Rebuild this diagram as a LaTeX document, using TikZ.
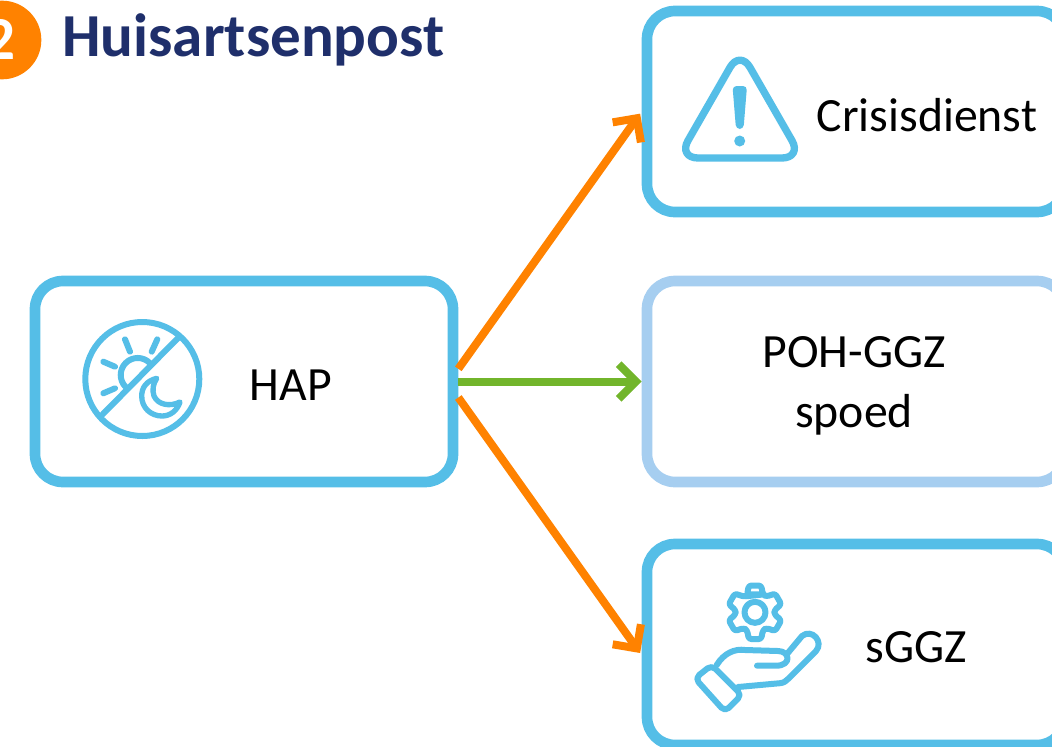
\documentclass[tikz,border=0pt]{standalone}
\usepackage{fontspec}
\setmainfont{Carlito}
\usetikzlibrary{arrows.meta}
\definecolor{boxblue}{HTML}{55BEE7}
\definecolor{lightblue}{HTML}{A6CEF0}
\definecolor{arrorange}{HTML}{FF8200}
\definecolor{arrgreen}{HTML}{72B52B}
\definecolor{navy}{HTML}{1F2F6B}
\tikzset{
  card/.style={draw=#1,line width=8pt,rounded corners=21pt,minimum width=313.5pt,minimum height=150.75pt,fill=white,inner sep=0pt},
  card/.default=boxblue,
  lbl/.style={font=\fontsize{35.8}{45.5}\selectfont,text=black,inner sep=0pt,align=center},
  conn/.style={line width=6pt,-{Straight Barb[length=13pt,width=26pt,line width=6pt]}},
  icon/.style={draw=boxblue,line width=4.5pt,line cap=round,line join=round}
}
\begin{document}
\begin{tikzpicture}[x=0.75pt,y=-0.75pt]
\useasboundingbox (0,0) rectangle (1052,746);
% heading
\node[circle,fill=arrorange,minimum size=59pt,inner sep=0pt] (badge) at (2,40) {};
\node[font=\fontsize{45.8}{46}\selectfont\bfseries,text=white,inner sep=0pt] (two) at (0,39) {2};
\node[font=\fontsize{45.8}{46}\selectfont\bfseries,text=navy,inner sep=0pt,anchor=base west] (title) at (62,56) {Huisartsenpost};
% cards
\node[card] (hap) at (244,381.5) {};
\node[card] (crisis) at (856,111.5) {};
\node[card=lightblue] (poh) at (856,381.5) {};
\node[card] (sggz) at (856,644.5) {};
% connectors
\draw[conn,draw=arrorange,shorten >=2pt] ([yshift=9.5pt]hap.east) -- (crisis.west);
\draw[conn,draw=arrorange,shorten >=2pt] ([yshift=-12pt]hap.east) -- ([yshift=-8pt]sggz.west);
\draw[conn,draw=arrgreen] (hap.east) -- (poh.west);
% labels
\node[lbl] (hapl) at (291,385) {HAP};
\node[lbl] (crisisl) at (927,115) {Crisisdienst};
\node[lbl] (pohl) at (854,386) {POH-GGZ\\spoed};
\node[lbl] (sggzl) at (916,647) {sGGZ};
% day/night icon
\draw[icon] (142.3,379) circle[radius=57];
\draw[icon] (178,338) -- (102,415);
\draw[icon] (125.7,387) arc[start angle=135,end angle=315,radius=17];
\draw[icon] (125,339.3) -- (130,351.7);
\draw[icon] (157.3,339.3) -- (151.7,351.7);
\draw[icon] (103.3,361.7) -- (115,366.7);
\draw[icon] (103.3,393.3) -- (115,388.3);
\draw[icon,line width=4pt] (156.7,378.3) .. controls (146,381) and (141.7,388) .. (141.7,396)
  .. controls (141.7,408) and (151,416) .. (162,416)
  .. controls (170,416) and (177,411) .. (180,402)
  .. controls (170,407) and (158,405) .. (154,396)
  .. controls (152,390) and (153,384) .. (156.7,378.3) -- cycle;
% warning icon
\draw[icon,line width=5.5pt,rounded corners=15pt] (740,50) -- (802,158) -- (678,158) -- cycle;
\fill[boxblue,rounded corners=3pt] (732.5,86) -- (747,86) -- (743.5,129) -- (736,129) -- cycle;
\fill[boxblue] (739.7,141) circle[radius=5.5];
% gear and hand icon
\begin{scope}[shift={(755,612.3)}]
\draw[icon] (0,0) circle[radius=10.5];
\draw[icon,rounded corners=2pt] (-66:19.5)
  \foreach \a in {-90,-30,30,90,150,210}{
    -- (\a-24:19.5) -- (\a-13:27.5) -- (\a+13:27.5) -- (\a+24:19.5)
  } -- cycle;
\end{scope}
\draw[icon,rounded corners=4pt] (711.7,665) -- (741.7,695) -- (725,711.7) -- (695,678.3) -- cycle;
\draw[icon] (716.7,665) .. controls (724,653) and (735,648.5) .. (745,650)
  -- (778,651) .. controls (790,651) and (792,665.7) .. (776,665.7) -- (757,665.7);
\draw[icon] (738,687) -- (780,683.2) .. controls (784,682.8) and (786,681) .. (788,679)
  -- (816,651) .. controls (824,642) and (812,628) .. (802,636) -- (787,654);
\end{tikzpicture}
\end{document}
